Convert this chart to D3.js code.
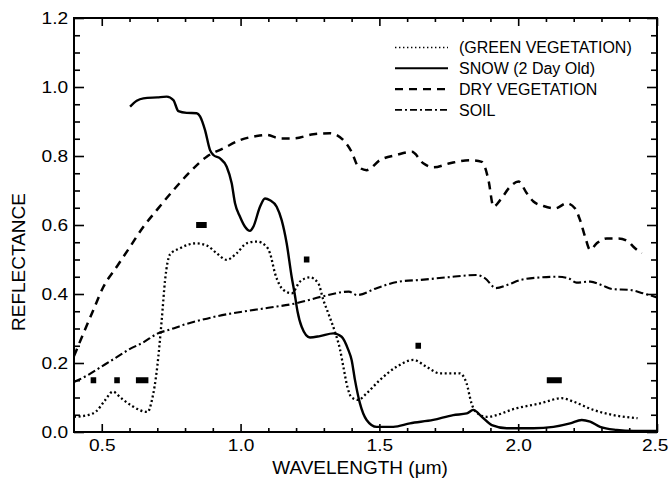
<!DOCTYPE html>
<html>
<head>
<meta charset="utf-8">
<script src="https://cdn.jsdelivr.net/npm/d3@7"></script>
<style>
  body { margin: 0; background: #fff; }
  svg { display: block; font-family: "Liberation Sans", Arial, sans-serif; }
</style>
</head>
<body>
<div id="chart"></div>
<script>
// Spectral curves (wavelength in µm, reflectance 0-1)
const greenWl  = [0.40,0.45,0.48,0.51,0.54,0.57,0.61,0.665,0.68,0.70,0.716,0.728,0.746,0.78,0.84,0.88,0.914,0.95,0.986,1.022,1.058,1.094,1.106,1.124,1.154,1.184,1.214,1.25,1.28,1.298,1.316,1.34,1.358,1.37,1.385,1.40,1.424,1.454,1.502,1.562,1.622,1.67,1.718,1.79,1.814,1.832,1.845,1.887,1.995,2.079,2.157,2.199,2.271,2.343,2.43];
const greenRef = [0.044,0.049,0.06,0.09,0.117,0.098,0.075,0.058,0.09,0.19,0.325,0.44,0.515,0.532,0.547,0.54,0.518,0.499,0.518,0.547,0.552,0.537,0.518,0.46,0.412,0.402,0.436,0.448,0.431,0.383,0.344,0.29,0.24,0.19,0.13,0.10,0.093,0.112,0.151,0.189,0.209,0.189,0.17,0.17,0.141,0.083,0.06,0.044,0.069,0.083,0.098,0.088,0.064,0.049,0.04];

const snowWl  = [0.602,0.626,0.65,0.70,0.734,0.758,0.776,0.806,0.842,0.854,0.872,0.89,0.902,0.926,0.95,0.968,0.98,0.998,1.016,1.034,1.046,1.07,1.088,1.106,1.13,1.148,1.166,1.184,1.195,1.205,1.22,1.25,1.286,1.334,1.364,1.388,1.40,1.412,1.43,1.454,1.49,1.55,1.61,1.694,1.766,1.815,1.838,1.869,1.905,1.959,2.055,2.127,2.187,2.229,2.259,2.295,2.355,2.415,2.5];
const snowRef = [0.943,0.96,0.967,0.97,0.972,0.962,0.93,0.925,0.924,0.915,0.875,0.817,0.803,0.793,0.769,0.721,0.663,0.624,0.595,0.583,0.595,0.653,0.677,0.672,0.653,0.614,0.547,0.45,0.40,0.35,0.305,0.274,0.278,0.286,0.276,0.238,0.209,0.151,0.083,0.035,0.015,0.015,0.025,0.035,0.049,0.054,0.064,0.044,0.02,0.011,0.011,0.015,0.025,0.035,0.03,0.015,0.006,0.003,0.003];

const dryWl  = [0.40,0.434,0.47,0.506,0.554,0.602,0.65,0.698,0.758,0.818,0.878,0.938,0.998,1.058,1.094,1.142,1.19,1.262,1.322,1.37,1.40,1.424,1.454,1.502,1.562,1.617,1.658,1.694,1.754,1.827,1.869,1.893,1.911,1.935,1.971,2.001,2.031,2.055,2.091,2.133,2.175,2.205,2.223,2.241,2.259,2.283,2.319,2.361,2.397,2.415,2.445];
const dryRef = [0.22,0.286,0.354,0.421,0.479,0.537,0.595,0.643,0.701,0.754,0.798,0.822,0.846,0.858,0.861,0.851,0.851,0.863,0.866,0.846,0.812,0.769,0.759,0.788,0.803,0.812,0.779,0.767,0.779,0.788,0.783,0.73,0.653,0.672,0.711,0.726,0.692,0.668,0.655,0.648,0.663,0.648,0.614,0.566,0.528,0.547,0.561,0.561,0.552,0.537,0.518];

const soilWl  = [0.40,0.45,0.50,0.55,0.60,0.65,0.70,0.75,0.80,0.85,0.90,1.00,1.10,1.20,1.29,1.39,1.42,1.49,1.57,1.65,1.74,1.85,1.88,1.92,1.96,2.01,2.08,2.14,2.18,2.21,2.26,2.30,2.34,2.40,2.45,2.50];
const soilRef = [0.145,0.165,0.19,0.215,0.24,0.26,0.285,0.298,0.312,0.323,0.333,0.348,0.36,0.373,0.392,0.407,0.397,0.417,0.436,0.441,0.448,0.455,0.446,0.417,0.426,0.441,0.448,0.45,0.446,0.433,0.436,0.426,0.414,0.412,0.402,0.39];

// Sensor band markers (start, end wavelength, plotted level)
const bandLo    = [0.46,0.545,0.623,0.84,1.228,1.63,2.103];
const bandHi    = [0.48,0.565,0.668,0.878,1.248,1.65,2.157];
const bandLevel = [0.15,0.15,0.15,0.6,0.5,0.25,0.15];

// Legend entries and axis ticks
const legendLabels = ["(GREEN VEGETATION)", "SNOW (2 Day Old)", "DRY VEGETATION", "SOIL"];
const xTicks = [0.5, 1.0, 1.5, 2.0, 2.5];
const yTicks = [0.0, 0.2, 0.4, 0.6, 0.8, 1.0, 1.2];

// Layout
const W = 669, H = 481;
const margin = { top: 18, right: 12, bottom: 49, left: 74 };
const width = W - margin.left - margin.right;
const height = H - margin.top - margin.bottom;

const svg = d3.select("#chart").append("svg")
  .attr("width", W)
  .attr("height", H);

const g = svg.append("g")
  .attr("transform", `translate(${margin.left},${margin.top})`);

const x = d3.scaleLinear().domain([0.4, 2.5]).range([0, width]);
const y = d3.scaleLinear().domain([0, 1.2]).range([height, 0]);

// Minor tick positions
const xMinor = d3.range(5, 26).map(d => d / 10).filter(v => !xTicks.some(t => Math.abs(t - v) < 1e-6));
const yMinor = d3.range(0, 25).map(d => d * 0.05).filter(v => !yTicks.some(t => Math.abs(t - v) < 1e-6));

// Ticks drawn inside the frame on all four sides
function drawTicks(sel, axis) {
  sel.call(axis);
  sel.select(".domain").remove();
  sel.selectAll("line").attr("stroke", "#000").attr("stroke-width", 1.6);
}

// bottom + top, major and minor
const xLab = g.append("g").attr("transform", `translate(0,${height})`);
xLab.call(d3.axisBottom(x).tickValues(xTicks).tickSize(-8).tickPadding(0).tickFormat(d3.format(".1f")));
xLab.select(".domain").remove();
xLab.selectAll("line").attr("stroke", "#000").attr("stroke-width", 1.6);
xLab.selectAll("text")
  .attr("y", 19)
  .attr("dy", 0)
  .attr("x", d => d === 2.5 ? -2 : 0)
  .attr("transform", "scale(1.16,1)")
  .style("font-size", "16.5px")
  .attr("fill", "#000");

drawTicks(g.append("g").attr("transform", `translate(0,${height})`),
  d3.axisBottom(x).tickValues(xMinor).tickSize(-4).tickFormat(""));
drawTicks(g.append("g"), d3.axisTop(x).tickValues(xTicks).tickSize(-8).tickFormat(""));
drawTicks(g.append("g"), d3.axisTop(x).tickValues(xMinor).tickSize(-4).tickFormat(""));

// left + right, major and minor
const yLab = g.append("g");
yLab.call(d3.axisLeft(y).tickValues(yTicks).tickSize(-10).tickPadding(0).tickFormat(d3.format(".1f")));
yLab.select(".domain").remove();
yLab.selectAll("line").attr("stroke", "#000").attr("stroke-width", 1.6);
yLab.selectAll("text")
  .attr("x", -5)
  .attr("transform", "scale(1.16,1)")
  .style("font-size", "16.5px")
  .attr("fill", "#000");

drawTicks(g.append("g"), d3.axisLeft(y).tickValues(yMinor).tickSize(-6).tickFormat(""));
drawTicks(g.append("g").attr("transform", `translate(${width},0)`),
  d3.axisRight(y).tickValues(yTicks).tickSize(-10).tickFormat(""));
drawTicks(g.append("g").attr("transform", `translate(${width},0)`),
  d3.axisRight(y).tickValues(yMinor).tickSize(-6).tickFormat(""));

// Frame
g.append("rect")
  .attr("width", width)
  .attr("height", height)
  .attr("fill", "none")
  .attr("stroke", "#000")
  .attr("stroke-width", 2);

// Axis titles
svg.append("text")
  .attr("x", 360)
  .attr("y", 474)
  .attr("text-anchor", "middle")
  .style("font-size", "19px")
  .text("WAVELENGTH (\u03bcm)");

svg.append("text")
  .attr("transform", "translate(25,262) rotate(-90)")
  .attr("text-anchor", "middle")
  .style("font-size", "19px")
  .text("REFLECTANCE");

// Curves
const styles = [
  { wl: greenWl, ref: greenRef, dash: "2,2.6",   sw: 2.3, legendDash: "1.4,2.6" },
  { wl: snowWl,  ref: snowRef,  dash: null,      sw: 2.4, legendDash: null },
  { wl: dryWl,   ref: dryRef,   dash: "8,6",     sw: 2.5, legendDash: "8,6" },
  { wl: soilWl,  ref: soilRef,  dash: "8,3,2,3", sw: 2.1, legendDash: "7,3,2,3" }
];

g.append("clipPath").attr("id", "clip")
  .append("rect").attr("width", width).attr("height", height);

const line = d3.line()
  .x(d => x(d[0]))
  .y(d => y(d[1]))
  .curve(d3.curveMonotoneX);

styles.forEach(s => {
  const pts = s.wl.map((w, i) => [w, s.ref[i]]);
  g.append("path")
    .datum(pts)
    .attr("clip-path", "url(#clip)")
    .attr("fill", "none")
    .attr("stroke", "#000")
    .attr("stroke-width", s.sw)
    .attr("stroke-dasharray", s.dash)
    .attr("d", line);
});

// Band markers
g.selectAll("rect.band")
  .data(bandLo.map((lo, i) => ({ lo, hi: bandHi[i], level: bandLevel[i] })))
  .enter()
  .append("rect")
  .attr("class", "band")
  .attr("x", d => x(d.lo))
  .attr("width", d => x(d.hi) - x(d.lo))
  .attr("y", d => y(d.level) - 3)
  .attr("height", 6)
  .attr("fill", "#000");

// Legend
const legend = svg.append("g");
legendLabels.forEach((label, i) => {
  const ly = 47.5 + i * 20.8;
  legend.append("line")
    .attr("x1", 395).attr("x2", 448)
    .attr("y1", ly).attr("y2", ly)
    .attr("stroke", "#000")
    .attr("stroke-width", i === 0 ? 1.5 : styles[i].sw - 0.4)
    .attr("stroke-dasharray", styles[i].legendDash);
  legend.append("text")
    .attr("x", 459)
    .attr("y", ly)
    .attr("dy", "0.36em")
    .style("font-size", "16px")
    .text(label);
});
</script>
</body>
</html>
